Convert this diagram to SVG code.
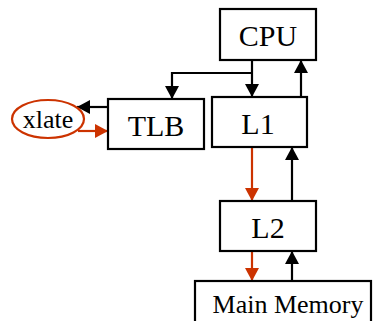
<svg xmlns="http://www.w3.org/2000/svg" width="374" height="321" viewBox="0 0 374 321">
<style>
.box{fill:#fff;stroke:#000;stroke-width:2.2}
.t{font-family:"Liberation Serif","Times New Roman",serif;fill:#000;text-anchor:middle}
.big{font-size:30px}
.sm{font-size:26px}
.k{stroke:#000;stroke-width:2.2;fill:none}
.r{stroke:#cc3300;stroke-width:2.2;fill:none}
</style>
<defs>
<marker id="ak" markerUnits="userSpaceOnUse" markerWidth="14" markerHeight="14" refX="13" refY="7" orient="auto"><path d="M0,0 L13,7 L0,14 Z" fill="#000"/></marker>
<marker id="ar" markerUnits="userSpaceOnUse" markerWidth="14" markerHeight="14" refX="13" refY="7" orient="auto"><path d="M0,0 L13,7 L0,14 Z" fill="#cc3300"/></marker>
</defs>
<g id="connectors">
<path class="k" d="M252,60 L252,97" marker-end="url(#ak)"/>
<path class="k" d="M252,73 L172,73 L172,99" marker-end="url(#ak)"/>
<path class="k" d="M301,97 L301,60" marker-end="url(#ak)"/>
<path class="k" d="M108,107 L77,107" marker-end="url(#ak)"/>
<path class="r" d="M78,131 L108,131" marker-end="url(#ar)"/>
<path class="r" d="M252,147 L252,201" marker-end="url(#ar)"/>
<path class="k" d="M292,201 L292,147" marker-end="url(#ak)"/>
<path class="r" d="M252,251 L252,281" marker-end="url(#ar)"/>
<path class="k" d="M292,281 L292,251" marker-end="url(#ak)"/>
</g>
<g id="cpu"><rect class="box" x="220" y="9" width="96" height="51"/><text class="t big" x="268" y="46">CPU</text></g>
<g id="tlb"><rect class="box" x="108" y="99" width="96" height="50"/><text class="t big" x="156" y="136">TLB</text></g>
<g id="l1"><rect class="box" x="212" y="97" width="95" height="50"/><text class="t big" x="258" y="134">L1</text></g>
<g id="l2"><rect class="box" x="220" y="201" width="96" height="50"/><text class="t big" x="268" y="238">L2</text></g>
<g id="mainmem"><rect class="box" x="195" y="281" width="176" height="60"/><text class="t sm" x="288" y="313">Main Memory</text></g>
<g id="xlate"><ellipse cx="48" cy="119" rx="36" ry="19" fill="#fff" stroke="#cc3300" stroke-width="2.2"/><text class="t sm" x="48" y="128">xlate</text></g>
</svg>
